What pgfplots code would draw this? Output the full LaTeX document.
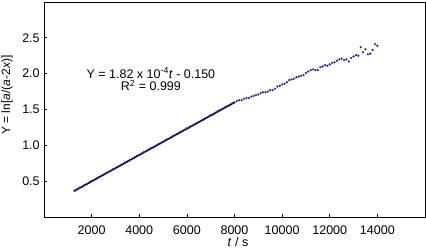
\documentclass[border=0pt]{standalone}
\usepackage{pgfplots}
\pgfplotsset{compat=1.18}
\usepackage{fontspec}
\setmainfont{Liberation Sans}
\definecolor{dotblue}{RGB}{40,40,140}
\begin{document}
\fontsize{12.5}{14}\selectfont
\begin{tikzpicture}
\begin{axis}[
  at={(0,0)}, anchor=south west,
  scale only axis, width=381pt, height=215pt,
  xmin=0, xmax=16000, ymin=0, ymax=3,
  xtick={2000,4000,6000,8000,10000,12000,14000},
  ytick={0.5,1.0,1.5,2.0,2.5},
  xtick pos=bottom, ytick pos=left,
  tick align=inside, major tick length=3pt,
  scaled x ticks=false,
  /pgf/number format/assume math mode=true,
  xticklabel style={/pgf/number format/1000 sep={}, yshift=-4pt},
  yticklabel style={/pgf/number format/.cd, fixed, fixed zerofill, precision=1},
  axis line style={line width=0.9pt},
  every tick/.style={line width=0.7pt, black},
  clip=false,
]
\addplot[only marks, mark=*, mark size=0.9pt, color=dotblue] coordinates {
(1300,0.37)(1400,0.385)(1500,0.41)(1600,0.42)(1700,0.445)(1800,0.46)(1900,0.48)(2000,0.50)
(2100,0.515)(2200,0.535)(2300,0.555)(2400,0.57)(2500,0.59)(2600,0.61)(2700,0.625)(2800,0.645)
(2900,0.665)(3000,0.68)(3100,0.70)(3200,0.72)(3300,0.735)(3400,0.76)(3500,0.775)(3600,0.79)
(3700,0.81)(3800,0.83)(3900,0.85)(4000,0.865)(4100,0.885)(4200,0.905)(4300,0.92)(4400,0.94)
(4500,0.96)(4600,0.975)(4700,0.995)(4800,1.015)(4900,1.03)(5000,1.05)(5100,1.07)(5200,1.085)
(5300,1.105)(5400,1.125)(5500,1.14)(5600,1.16)(5700,1.18)(5800,1.195)(5900,1.215)(6000,1.235)
(6100,1.25)(6200,1.27)(6300,1.29)(6400,1.305)(6500,1.325)(6600,1.345)(6700,1.36)(6800,1.38)
(6900,1.40)(7000,1.42)(7100,1.43)(7200,1.455)(7300,1.475)(7400,1.49)(7500,1.51)(7600,1.53)
(7700,1.545)(7800,1.565)(7900,1.585)(8000,1.60)
(8100,1.62)(8200,1.63)(8300,1.63)(8400,1.65)(8500,1.66)(8600,1.66)(8700,1.68)(8800,1.69)
(8900,1.70)(9000,1.71)(9100,1.73)(9200,1.74)(9300,1.74)(9400,1.75)(9500,1.77)(9600,1.77)
(9700,1.79)(9800,1.82)(9900,1.83)(10000,1.85)(10100,1.86)(10200,1.88)(10300,1.91)(10400,1.92)
(10500,1.93)(10600,1.95)(10700,1.96)(10800,1.97)(10900,1.98)(11000,2.01)(11100,2.03)(11200,2.05)
(11300,2.06)(11400,2.05)(11500,2.05)(11600,2.09)(11700,2.10)(11800,2.12)(11900,2.11)(12000,2.13)
(12100,2.15)(12200,2.16)(12300,2.18)(12400,2.20)(12500,2.21)(12600,2.19)(12700,2.20)(12800,2.17)
(12900,2.22)(13000,2.24)(13100,2.26)(13200,2.25)(13300,2.37)(13400,2.30)(13500,2.34)(13600,2.27)
(13700,2.28)(13800,2.33)(13900,2.41)(14000,2.39)
};
\addplot[black, line width=1.6pt] coordinates {(1250,0.36)(8000,1.60)};
\node[align=center, font=\fontsize{12.5}{12.5}\selectfont] at (axis cs:4490,1.92)
  {Y = 1.82 x 10\textsuperscript{-4}\textit{t} - 0.150\\R\textsuperscript{2} = 0.999};
\end{axis}
\node[rotate=90, font=\fontsize{12}{14}\selectfont] at (-37pt,122pt) {Y = ln[\textit{a}/(\textit{a}-2\textit{x})]};
\node[anchor=base, font=\fontsize{12.5}{14}\selectfont] at (194pt,-30pt) {\textit{t} / s};
\pgfresetboundingbox
\path[use as bounding box] (-44pt,-32pt) rectangle (382pt,217pt);
\end{tikzpicture}
\end{document}
